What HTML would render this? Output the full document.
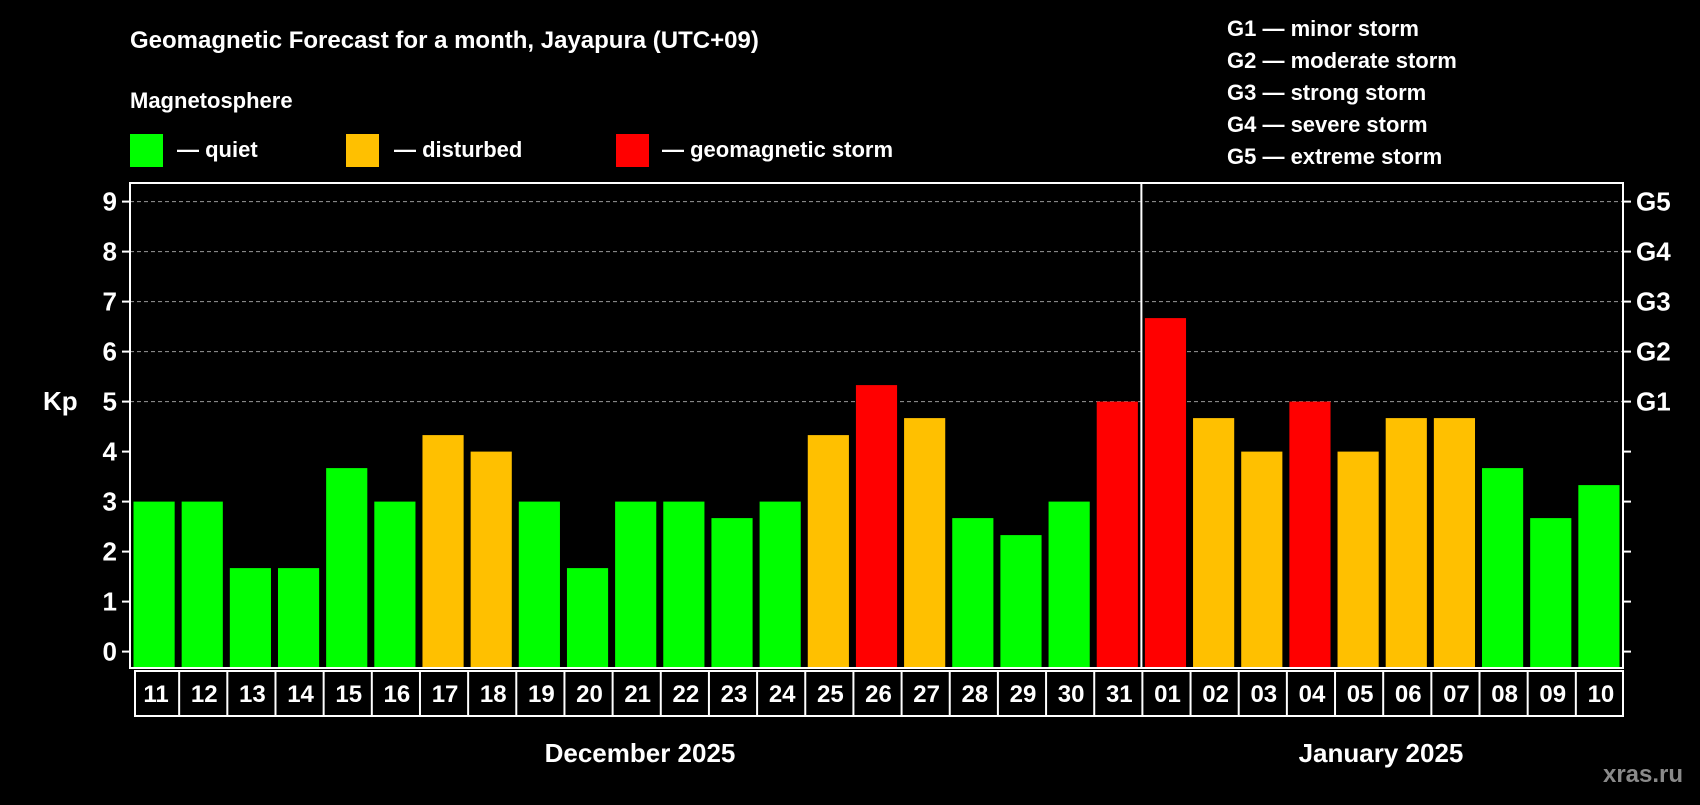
<!DOCTYPE html>
<html><head><meta charset="utf-8"><style>
body{margin:0;background:#000;width:1700px;height:800px;overflow:hidden}
svg text{font-family:"Liberation Sans",Arial,sans-serif;font-weight:bold;fill:#fff}
</style></head><body>
<svg id="chart" width="1700" height="800" viewBox="0 0 1700 800" xmlns="http://www.w3.org/2000/svg">
<rect width="1700" height="800" fill="#000"/>
<text x="130" y="48" font-size="24">Geomagnetic Forecast for a month, Jayapura (UTC+09)</text>
<text x="130" y="108" font-size="22">Magnetosphere</text>
<rect x="130" y="134" width="33" height="33" fill="#00ff00"/>
<text x="177" y="157" font-size="22">— quiet</text>
<rect x="346" y="134" width="33" height="33" fill="#ffc000"/>
<text x="394" y="157" font-size="22">— disturbed</text>
<rect x="616" y="134" width="33" height="33" fill="#ff0000"/>
<text x="662" y="157" font-size="22">— geomagnetic storm</text>
<g font-size="22">
<text x="1227" y="36">G1 — minor storm</text>
<text x="1227" y="68">G2 — moderate storm</text>
<text x="1227" y="100">G3 — strong storm</text>
<text x="1227" y="132">G4 — severe storm</text>
<text x="1227" y="164">G5 — extreme storm</text>
</g>
<text x="43" y="410" font-size="26">Kp</text>
<text x="640" y="762" font-size="26" text-anchor="middle">December 2025</text>
<text x="1381" y="762" font-size="26" text-anchor="middle">January 2025</text>
<text x="1643" y="782" font-size="24" text-anchor="middle" style="fill:#8a8a8a">xras.ru</text>
<g id="plot"></g>
</svg>
<script>
const days=["11","12","13","14","15","16","17","18","19","20","21","22","23","24","25","26","27","28","29","30","31","01","02","03","04","05","06","07","08","09","10"];
const kpValues=[3,3,1.67,1.67,3.67,3,4.33,4,3,1.67,3,3,2.67,3,4.33,5.33,4.67,2.67,2.33,3,5,6.67,4.67,4,5,4,4.67,4.67,3.67,2.67,3.33];
const yTicks=[0,1,2,3,4,5,6,7,8,9];
const gLabels=["G1","G2","G3","G4","G5"];
const gLevels=[5,6,7,8,9];
const monthSplitIndex=21;

const NS="http://www.w3.org/2000/svg";
const L=130,R=1623,T=183,B=668,Y0=651.6,UNIT=50;
const slot=(R-L)/days.length;
const y=v=>Y0-v*UNIT;
const x=i=>L+i*slot;
const g=document.getElementById('plot');
function mk(tag,attrs){const e=document.createElementNS(NS,tag);for(const k in attrs)e.setAttribute(k,attrs[k]);g.appendChild(e);return e;}
function color(v){return v>=5?"#ff0000":(v>=4?"#ffc000":"#00ff00");}
// grid
yTicks.forEach(t=>{
  if(t>=5){const gl=mk('line',{x1:L,x2:R,y1:y(t),y2:y(t),stroke:'#999','stroke-dasharray':'4 3','stroke-width':1});
  
  }
  const tk=mk('line',{x1:L-8,x2:L,y1:y(t),y2:y(t),stroke:'#fff','stroke-width':2});
  
  
  const tr=mk('line',{x1:R,x2:R+8,y1:y(t),y2:y(t),stroke:'#fff','stroke-width':2});
  
  
  const tl=mk('text',{x:L-13,y:y(t)+9,'font-size':26,'text-anchor':'end'});
  tl.textContent=t;
  
  
});
gLabels.forEach((lab,i)=>{
  const t=mk('text',{x:R+13,y:y(gLevels[i])+9,'font-size':26});
  t.textContent=lab;
  
  
});
// bars
kpValues.forEach((v,i)=>{
  const b=mk('rect',{x:x(i)+3.5,y:y(v),width:slot-7,height:B-y(v),fill:color(v)});
  
  
});
// frame
const fr=mk('rect',{x:L,y:T,width:R-L,height:B-T,fill:'none',stroke:'#fff','stroke-width':2});


const dv=mk('line',{x1:x(monthSplitIndex),x2:x(monthSplitIndex),y1:T,y2:B,stroke:'#fff','stroke-width':2});


// day label boxes
const bx=mk('rect',{x:L+5,y:671,width:R-L-5,height:45,fill:'none',stroke:'#fff','stroke-width':2});


days.forEach((d,i)=>{
  if(i>0){const s=mk('line',{x1:x(i)+1,x2:x(i)+1,y1:671,y2:716,stroke:'#fff','stroke-width':2});
  
  }
  const t=mk('text',{x:x(i)+slot/2+2,y:702,'font-size':24,'text-anchor':'middle'});
  t.textContent=d;
  
  
});
</script>
</body></html>
